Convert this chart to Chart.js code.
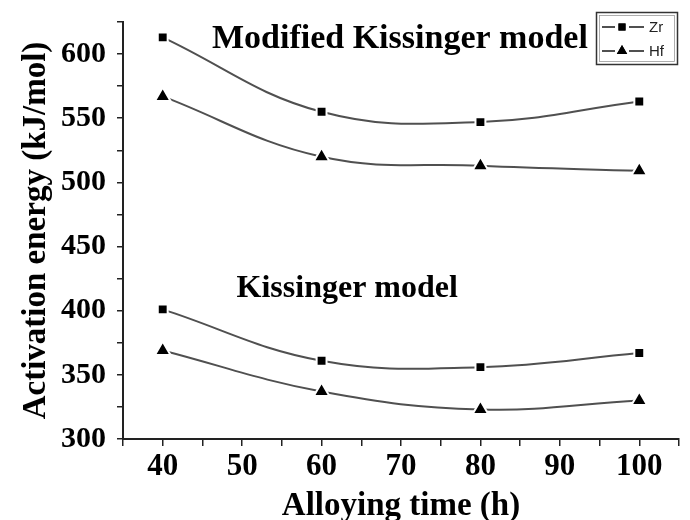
<!DOCTYPE html>
<html>
<head>
<meta charset="utf-8">
<script src="https://cdn.jsdelivr.net/npm/chart.js@4/dist/chart.umd.min.js"></script>
<style>
  html, body { margin: 0; padding: 0; background: #fff; }
  #wrap { width: 690px; height: 520px; }
</style>
</head>
<body>
<div id="wrap"><canvas id="energyChart"></canvas></div>
<script>
// values
const hours = [40, 60, 80, 100];
const modifiedZr = [613, 555, 547, 563];
const modifiedHf = [567, 520, 513, 509];
const kissingerZr = [401, 361, 356, 367];
const kissingerHf = [369, 337, 323, 330];
const legendNames = ['Zr', 'Hf'];

const serif = 'Liberation Serif, Times New Roman, serif';
const lineGrey = '#505050';

function toPoints(values) {
    return values.map((v, i) => ({ x: hours[i], y: v }));
}

function series(label, values, style, radius) {
    return {
        label: label,
        data: toPoints(values),
        borderColor: lineGrey,
        borderWidth: 2,
        tension: 0.4,
        fill: false,
        pointStyle: style,
        pointRadius: radius,
        pointBackgroundColor: '#000',
        pointBorderColor: '#fff',
        pointBorderWidth: 2,
    };
}

// titles inside the plot and the boxed legend
const notes = {
    id: 'notes',
    afterDraw(chart) {
        const ctx = chart.ctx;
        const xs = chart.scales.x, ys = chart.scales.y;
        ctx.save();
        ctx.fillStyle = '#000';
        ctx.textAlign = 'left';
        ctx.textBaseline = 'alphabetic';
        ctx.font = 'bold 34px ' + serif;
        ctx.fillText('Modified Kissinger model', xs.getPixelForValue(46.2), ys.getPixelForValue(604.5));
        ctx.font = 'bold 32px ' + serif;
        ctx.fillText('Kissinger model', xs.getPixelForValue(49.3), ys.getPixelForValue(411));

        // legend box
        ctx.strokeStyle = '#333';
        ctx.lineWidth = 1.5;
        ctx.strokeRect(596.5, 12.5, 81, 52);
        ctx.lineWidth = 0.8;
        ctx.strokeStyle = '#999';
        ctx.strokeRect(599.5, 15.5, 75, 46);

        const rows = [27, 51];
        const styles = ['rect', 'triangle'];
        ctx.font = '15px Liberation Sans, Arial, sans-serif';
        ctx.textBaseline = 'middle';
        rows.forEach((ry, i) => {
            ctx.strokeStyle = lineGrey;
            ctx.lineWidth = 2;
            ctx.beginPath();
            ctx.moveTo(602, ry); ctx.lineTo(615, ry);
            ctx.moveTo(629, ry); ctx.lineTo(644, ry);
            ctx.stroke();
            ctx.fillStyle = '#000';
            Chart.helpers.drawPoint(ctx, { pointStyle: styles[i], radius: i ? 6 : 5, borderWidth: 0 }, 622, ry);
            ctx.fill();
            ctx.fillStyle = '#222';
            ctx.fillText(legendNames[i], 649, ry + 1);
        });
        ctx.restore();
    }
};

new Chart(document.getElementById('energyChart').getContext('2d'), {
    type: 'line',
    data: {
        datasets: [
            series('Modified Zr', modifiedZr, 'rect', 7),
            series('Modified Hf', modifiedHf, 'triangle', 9),
            series('Kissinger Zr', kissingerZr, 'rect', 7),
            series('Kissinger Hf', kissingerHf, 'triangle', 9),
        ],
    },
    options: {
        responsive: true,
        maintainAspectRatio: false,
        animation: false,
        layout: { padding: { top: 22, right: 0, left: 0, bottom: 0 } },
        plugins: {
            legend: { display: false },
            tooltip: { enabled: false },
        },
        scales: {
            x: {
                type: 'linear',
                min: 35,
                max: 105,
                afterFit: function(s) { s.height = 81; s.paddingLeft = 0; s.paddingRight = 0; },
                ticks: {
                    stepSize: 5,
                    autoSkip: false,
                    color: '#000',
                    padding: 2,
                    maxRotation: 0,
                    font: { family: serif, size: 31, weight: 'bold' },
                    callback: v => (v % 10 === 0 && v >= 40 && v <= 100) ? v : '',
                },
                grid: { drawOnChartArea: false, tickLength: 7, color: '#222', lineWidth: 1.5 },
                border: { color: '#222', width: 2 },
                title: {
                    display: true,
                    text: 'Alloying time (h)',
                    color: '#000',
                    padding: { top: 0, bottom: -6 },
                    font: { family: serif, size: 33, weight: 'bold' },
                },
            },
            y: {
                min: 300,
                max: 625,
                afterFit: function(s) { s.width = 123; s.paddingTop = 0; s.paddingBottom = 0; },
                ticks: {
                    stepSize: 25,
                    autoSkip: false,
                    color: '#000',
                    padding: 11,
                    font: { family: serif, size: 30, weight: 'bold' },
                    callback: v => v % 50 === 0 ? v : '',
                },
                grid: { drawOnChartArea: false, tickLength: 6, color: '#222', lineWidth: 1.5 },
                border: { color: '#222', width: 2 },
                title: {
                    display: true,
                    text: 'Activation energy (kJ/mol)',
                    color: '#000',
                    padding: { top: 17, bottom: 0 },
                    font: { family: serif, size: 33, weight: 'bold' },
                },
            },
        },
    },
    plugins: [notes],
});
</script>
</body>
</html>
